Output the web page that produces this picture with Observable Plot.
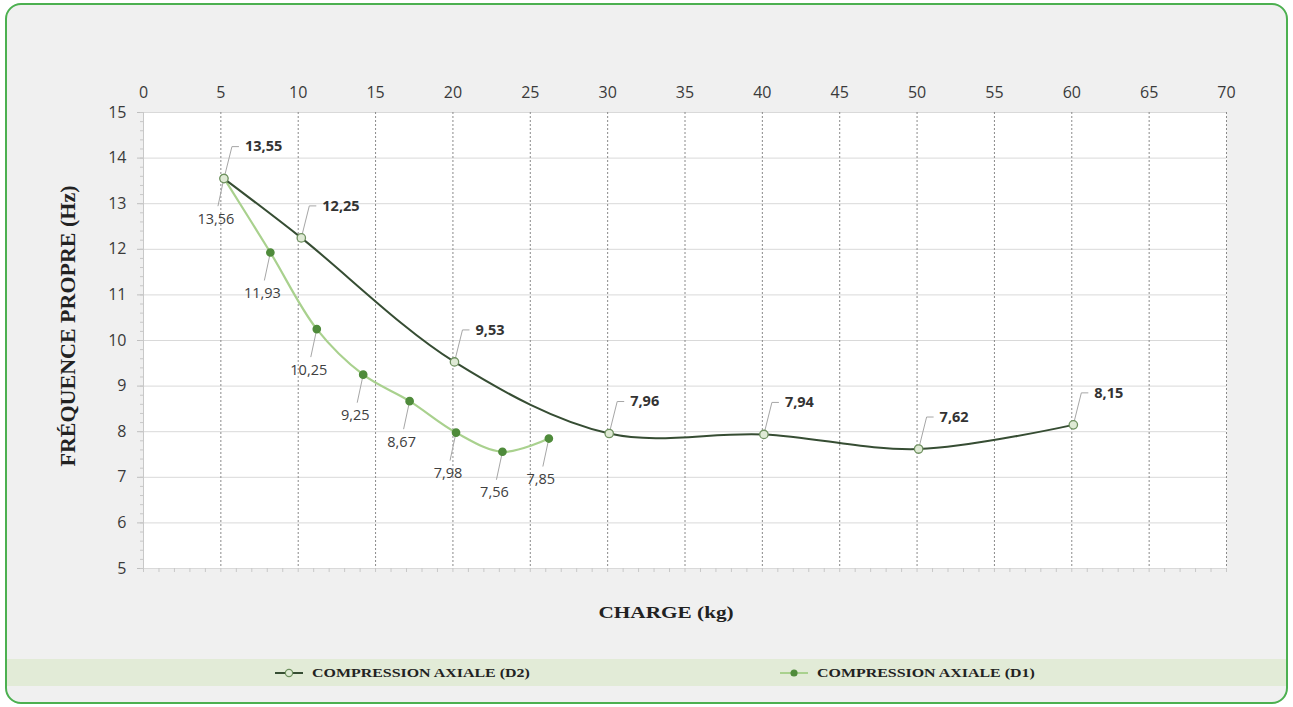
<!DOCTYPE html>
<html><head><meta charset="utf-8">
<script src="https://cdn.jsdelivr.net/npm/d3@7"></script>
<script src="https://cdn.jsdelivr.net/npm/@observablehq/plot@0.6"></script>
<style>
body{margin:0;background:#fff;width:1293px;height:707px;overflow:hidden;position:relative;}
#frame{position:absolute;left:5px;top:3px;width:1279px;height:697px;border:2px solid #4cb050;border-radius:16px;background:#f0f0f0;box-sizing:content-box;}
#chart{position:absolute;left:0;top:0;}
#xtitle{position:absolute;left:0;width:1332px;top:603px;text-align:center;font:bold 17px "Liberation Serif",serif;color:#222;}
#xtitle span{display:inline-block;transform:scaleX(1.25);}
#ytitle{position:absolute;left:68px;top:326px;width:0;height:0;}
#ytitle span{position:absolute;white-space:nowrap;transform:translate(-50%,-50%) rotate(-90deg);font:bold 22px "Liberation Serif",serif;color:#222;left:0;top:0;}
#legend{position:absolute;left:7px;top:659px;width:1279px;height:27px;background:#e2ebd7;}
.item{position:absolute;top:0;height:27px;display:flex;align-items:center;font:bold 13.5px "Liberation Serif",serif;color:#222;}
.item span{display:inline-block;transform:scaleX(1.18);transform-origin:left center;margin-left:9px;}
</style></head>
<body>
<div id="frame"></div>
<div id="chart"></div>
<div id="xtitle"><span>CHARGE (kg)</span></div>
<div id="ytitle"><span>FRÉQUENCE PROPRE (Hz)</span></div>
<div id="legend"></div>
<script>
// ---- data ----
const seriesNames = ["COMPRESSION AXIALE (D2)", "COMPRESSION AXIALE (D1)"];
const d2Charge = [5.2, 10.2, 20.1, 30.1, 40.1, 50.1, 60.1];
const d2Freq   = [13.55, 12.25, 9.53, 7.96, 7.94, 7.62, 8.15];
const d1Charge = [5.2, 8.2, 11.2, 14.2, 17.2, 20.2, 23.2, 26.2];
const d1Freq   = [13.56, 11.93, 10.25, 9.25, 8.67, 7.98, 7.56, 7.85];
const xTicks = [0, 5, 10, 15, 20, 25, 30, 35, 40, 45, 50, 55, 60, 65, 70];
const yTicks = [5, 6, 7, 8, 9, 10, 11, 12, 13, 14, 15];

// ---- layout / style ----
const W = 1293, H = 640, ML = 143, MR = 67, MT = 112, MB = 72;
const C2 = "#364d33", C2fill = "#dfead5", C2stroke = "#6f9160";
const C1 = "#a9d18e", C1dot = "#4f8b3b";
const lead = "#a6a6a6";
const kx = (xTicks[xTicks.length-1] - xTicks[0]) / (W - ML - MR);
const ky = (yTicks[yTicks.length-1] - yTicks[0]) / (H - MT - MB);
const fmt = v => v.toFixed(2).replace(".", ",");

const d2 = d2Charge.map((x, i) => ({x, y: d2Freq[i]}));
const d1 = d1Charge.map((x, i) => ({x, y: d1Freq[i]}));

const font = '"Open Sans", sans-serif';
const chart = Plot.plot({
  width: W, height: H,
  marginLeft: ML, marginRight: MR, marginTop: MT, marginBottom: MB,
  style: {background: "transparent", fontFamily: font, fontSize: "16px", color: "#3a3a3a", overflow: "visible"},
  x: {domain: [xTicks[0], xTicks[xTicks.length-1]], axis: null},
  y: {domain: [yTicks[0], yTicks[yTicks.length-1]], axis: null},
  marks: [
    Plot.frame({fill: "white", stroke: "none"}),
    Plot.ruleY(yTicks, {stroke: "#d9d9d9", strokeWidth: 1}),
    Plot.ruleX(xTicks.slice(1), {stroke: "#8a8a8a", strokeDasharray: "2,2", strokeWidth: 1}),
    Plot.ruleX([xTicks[0]], {stroke: "#c8c8c8"}),
    Plot.axisX({anchor: "top", ticks: xTicks, tickSize: 0, tickPadding: 15, tickFormat: d => d, label: null, fontSize: 16, fill: "#3a3a3a"}),
    Plot.axisY({anchor: "left", ticks: yTicks, tickSize: 6, tickPadding: 11, tickFormat: d => d, label: null, fontSize: 16, fill: "#3a3a3a", stroke: "#bfbfbf"}),
    Plot.axisY({anchor: "left", ticks: d3.range(5, 15.001, 0.2), tickSize: 3, tickFormat: null, text: null, label: null, stroke: "#c8c8c8"}),
    Plot.axisX({anchor: "bottom", ticks: d3.range(0, 70.001, 1), tickSize: 4, text: null, tickFormat: null, label: null, stroke: "#c8c8c8"}),
    // leader lines D2
    Plot.link(d2, {x1: "x", y1: "y", x2: d => d.x + 8*kx, y2: d => d.y + 32*ky, stroke: lead, strokeWidth: 1}),
    Plot.link(d2, {x1: d => d.x + 8*kx, y1: d => d.y + 32*ky, x2: d => d.x + 15*kx, y2: d => d.y + 32*ky, stroke: lead, strokeWidth: 1}),
    // leader lines D1
    Plot.link(d1, {x1: "x", y1: "y", x2: d => d.x - 6*kx, y2: d => d.y - 28*ky, stroke: lead, strokeWidth: 1}),
    // series lines
    Plot.line(d1, {x: "x", y: "y", curve: "catmull-rom", stroke: C1, strokeWidth: 2.2}),
    Plot.line(d2, {x: "x", y: "y", curve: "catmull-rom", stroke: C2, strokeWidth: 2}),
    Plot.dot(d1, {x: "x", y: "y", r: 3.6, fill: C1dot, stroke: C1dot}),
    Plot.dot(d2, {x: "x", y: "y", r: 4.2, fill: C2fill, stroke: C2stroke, strokeWidth: 1.3}),
    // data labels
    Plot.text(d2, {x: "x", y: "y", text: d => fmt(d.y), dx: 21, dy: -32, textAnchor: "start", fontWeight: "bold", fontSize: 14.5, fill: "#333"}),
    Plot.text(d1, {x: "x", y: "y", text: d => fmt(d.y), dx: -8, dy: 41, textAnchor: "middle", fontSize: 14.5, fill: "#404040"})
  ]
});
document.getElementById("chart").appendChild(chart);

// legend
const legend = document.getElementById("legend");
const items = [
  {name: seriesNames[0], left: 268, line: C2, fill: C2fill, stroke: C2stroke, r: 3.6},
  {name: seriesNames[1], left: 773, line: C1, fill: C1dot, stroke: C1dot, r: 3}
];
for (const it of items) {
  const div = document.createElement("div");
  div.className = "item";
  div.style.left = it.left + "px";
  div.innerHTML = `<svg width="28" height="12"><line x1="0" x2="28" y1="6" y2="6" stroke="${it.line}" stroke-width="2"/><circle cx="14" cy="6" r="${it.r}" fill="${it.fill}" stroke="${it.stroke}" stroke-width="1.2"/></svg><span>${it.name}</span>`;
  legend.appendChild(div);
}
</script>
</body></html>
